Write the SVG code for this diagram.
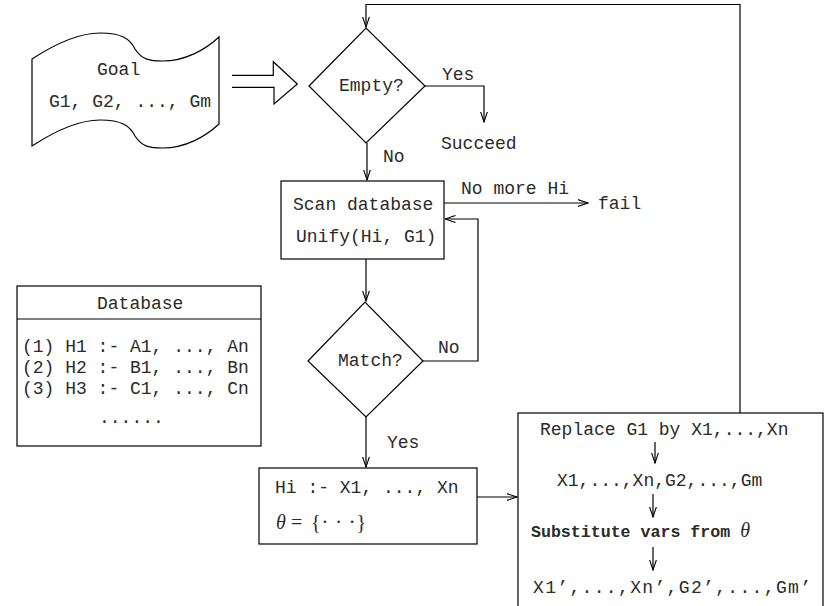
<svg xmlns="http://www.w3.org/2000/svg" width="825" height="606" viewBox="0 0 825 606">
<style>
  .shape { fill: #fff; stroke: #000; stroke-width: 1.2; }
  .line { fill: none; stroke: #000; stroke-width: 1.2; }
  .t { font-family: "Liberation Mono", "DejaVu Sans Mono", monospace; font-size: 18px; fill: #2a2a2a; }
  .b { font-family: "Liberation Mono", "DejaVu Sans Mono", monospace; font-size: 16.6px; font-weight: bold; fill: #2a2a2a; }
  .m { font-family: "Liberation Serif", "DejaVu Serif", serif; font-size: 20px; fill: #2a2a2a; }
  .mi { font-family: "Liberation Serif", "DejaVu Serif", serif; font-size: 20px; font-style: italic; fill: #2a2a2a; }
</style>
<defs>
  <marker id="arr" viewBox="0 0 11 8" refX="10.5" refY="4" markerWidth="11" markerHeight="8" markerUnits="userSpaceOnUse" orient="auto">
    <path d="M0,0.5 L10.5,4 L0,7.5" fill="none" stroke="#000" stroke-width="1.1"/>
  </marker>
</defs>
<rect width="825" height="606" fill="#fff"/>

<g id="goal">
  <path class="shape" d="M32,59 C55,44 80,33 100,33 C122,33 130,39 135,49 C142,60 150,61 163,61 C185,61 205,50 219,37 L219,124 C205,137 185,148 163,148 C150,148 142,147 135,136 C130,126 122,120 100,120 C80,120 55,131 32,146 Z"/>
  <text class="t" x="97" y="75">Goal</text>
  <text class="t" x="49" y="107">G1, G2, ..., Gm</text>
</g>

<g id="goal-arrow">
  <path class="line" d="M232,75.3 H273.3 V61.7 L297.3,84 L274,104 V87.3 H232"/>
</g>

<g id="empty">
  <polygon class="shape" points="309,86 366,28 425,86 366,143"/>
  <text class="t" x="339" y="91">Empty?</text>
</g>

<g id="succeed">
  <text class="t" x="441" y="149">Succeed</text>
</g>

<g id="scan">
  <rect class="shape" x="281" y="181" width="163" height="78"/>
  <text class="t" x="293" y="210">Scan database</text>
  <text class="t" x="296" y="242">Unify(Hi, G1)</text>
</g>

<g id="fail">
  <text class="t" x="598" y="209">fail</text>
</g>

<g id="database">
  <rect class="shape" x="17" y="286" width="244" height="160"/>
  <line class="line" x1="17" y1="319" x2="261" y2="319"/>
  <text class="t" x="97" y="309">Database</text>
  <text class="t" x="22" y="352">(1) H1 :- A1, ..., An</text>
  <text class="t" x="22" y="373">(2) H2 :- B1, ..., Bn</text>
  <text class="t" x="22" y="394">(3) H3 :- C1, ..., Cn</text>
  <text class="t" x="99" y="423">......</text>
</g>

<g id="match">
  <polygon class="shape" points="308,361 365,302 423,361 366,417"/>
  <text class="t" x="338" y="366">Match?</text>
</g>

<g id="hi">
  <rect class="shape" x="259" y="468" width="218" height="76"/>
  <text class="t" x="275" y="493">Hi :- X1, ..., Xn</text>
  <text class="mi" x="276" y="529">θ</text>
  <text class="m" x="291" y="529">=</text>
  <text class="m" x="311" y="529" textLength="55" lengthAdjust="spacing">{· · ·}</text>
</g>

<g id="replace">
  <rect class="shape" x="518" y="413" width="305" height="200"/>
  <text class="t" x="540" y="435">Replace G1 by X1,...,Xn</text>
  <text class="t" x="557" y="486">X1,...,Xn,G2,...,Gm</text>
  <text class="b" x="531" y="537">Substitute vars from <tspan class="mi" font-weight="normal" font-size="19">θ</tspan></text>
  <text class="t" x="533" y="593" textLength="278" lengthAdjust="spacing">X1’,...,Xn’,G2’,...,Gm’</text>
  <line class="line" x1="655" y1="442" x2="655" y2="463" marker-end="url(#arr)"/>
  <line class="line" x1="653" y1="494" x2="653" y2="517" marker-end="url(#arr)"/>
  <line class="line" x1="653" y1="547" x2="653" y2="570" marker-end="url(#arr)"/>
</g>

<g id="connectors">
  <polyline class="line" points="740,413 740,4.5 366,4.5 366,27" marker-end="url(#arr)"/>
  <polyline class="line" points="425,86 484,86 484,122" marker-end="url(#arr)"/>
  <line class="line" x1="367" y1="143" x2="367" y2="180" marker-end="url(#arr)"/>
  <line class="line" x1="444" y1="203" x2="588" y2="203" marker-end="url(#arr)"/>
  <line class="line" x1="366" y1="259" x2="366" y2="301" marker-end="url(#arr)"/>
  <polyline class="line" points="423,361 478,361 478,219 445,219" marker-end="url(#arr)"/>
  <line class="line" x1="366" y1="417" x2="366" y2="467" marker-end="url(#arr)"/>
  <line class="line" x1="477" y1="497" x2="517" y2="497" marker-end="url(#arr)"/>
  <text class="t" x="442" y="80">Yes</text>
  <text class="t" x="383" y="162">No</text>
  <text class="t" x="461" y="194">No more Hi</text>
  <text class="t" x="438" y="353">No</text>
  <text class="t" x="387" y="448">Yes</text>
</g>
</svg>
